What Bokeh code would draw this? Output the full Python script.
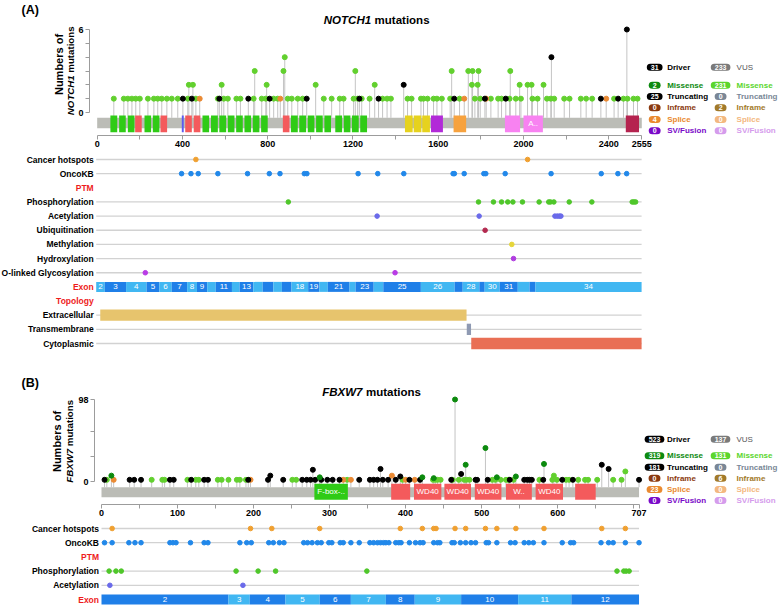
import math
from bokeh.plotting import figure
from bokeh.models import Range1d, FixedTicker, Label
from bokeh.layouts import column, row
from bokeh.embed import file_html
from bokeh.resources import INLINE
from bokeh.core.properties import value

FONT = "Liberation Sans"

# ======================= DATA : NOTCH1 (panel A) =======================
a_length = 2555
a_x_ticks = [0, 200, 400, 600, 800, 1000, 1200, 1400, 1600, 1800, 2000, 2200, 2400, 2555]
a_x_labels = [0, 400, 800, 1200, 1600, 2000, 2400, 2555]
a_y_ticks = [0, 1, 2, 3, 4, 5, 6]
a_y_labels = [0, 6]

a_vus_mis_pos = [78, 125, 144, 163, 181, 200, 238, 266, 284, 303,
                 327, 350, 378, 425, 463, 566, 594, 613, 653, 672,
                 734, 772, 791, 828, 847, 894, 913, 941, 964, 1063,
                 1100, 1138, 1156, 1203, 1222, 1241, 1278, 1339, 1360, 1378,
                 1456, 1475, 1519, 1531, 1550, 1578, 1594, 1617, 1656, 1700,
                 1772, 1797, 1847, 1881, 1897, 1935, 1964, 1988, 2042, 2066,
                 2110, 2128, 2144, 2191, 2216, 2269, 2294, 2322, 2425, 2469,
                 2488, 2516, 2535,
                 430, 449, 584, 795, 1025, 1302, 1758, 1785, 1982, 2019, 2038, 2094,
                 739, 874, 1211, 1663, 1741, 1761, 1789, 1938,
                 880]
a_vus_mis_cnt = [1, 1, 1, 1, 1, 1, 1, 1, 1, 1,
                 1, 1, 1, 1, 1, 1, 1, 1, 1, 1,
                 1, 1, 1, 1, 1, 1, 1, 1, 1, 1,
                 1, 1, 1, 1, 1, 1, 1, 1, 1, 1,
                 1, 1, 1, 1, 1, 1, 1, 1, 1, 1,
                 1, 1, 1, 1, 1, 1, 1, 1, 1, 1,
                 1, 1, 1, 1, 1, 1, 1, 1, 1, 1,
                 1, 1, 1,
                 2, 2, 2, 2, 2, 2, 2, 2, 2, 2, 2, 2,
                 3, 3, 3, 3, 3, 3, 3, 3,
                 4]
a_trunc_pos = [402, 444, 573, 709, 809, 983, 1230, 1320, 1438, 1675, 1819, 1917, 2131, 2363, 2444, 2485]
a_trunc_cnt = [1, 1, 1, 1, 1, 1, 1, 1, 2, 1, 1, 1, 4, 1, 1, 6]
a_splice_pos = [481, 859, 1722, 1825, 2388]
a_splice_cnt = [1, 1, 1, 1, 1]

a_dom_start = [62, 103, 144, 178, 222, 261, 297, 397, 413, 453,
               494, 534, 573, 613, 652, 691, 730, 769, 871, 909,
               948, 988, 1027, 1066, 1117, 1157, 1195, 1234, 1444, 1485,
               1525, 1566, 1672, 1913, 2000, 2480]
a_dom_end = [94, 134, 175, 209, 253, 292, 328, 406, 444, 484,
             525, 566, 605, 644, 683, 722, 761, 800, 902, 941,
             980, 1019, 1058, 1097, 1149, 1188, 1227, 1266, 1480, 1521,
             1561, 1622, 1731, 1984, 2091, 2542]
a_dom_type = ["EGF", "EGF", "EGF", "EGF_CA", "EGF", "EGF", "EGF_CA", "EGF_like", "EGF_CA", "EGF_CA",
              "EGF", "EGF", "EGF", "EGF", "EGF", "EGF", "EGF", "EGF", "EGF_CA", "EGF",
              "EGF", "EGF", "EGF", "EGF", "EGF", "EGF", "EGF", "EGF", "Notch", "Notch",
              "Notch", "NOD", "NODP", "Ank_2", "Ank_2", "DUF3454"]
a_dom_text = ["", "", "", "", "", "", "", "", "", "",
              "", "", "", "", "", "", "", "", "", "",
              "", "", "", "", "", "", "", "", "", "",
              "", "", "", "", "A..", ""]

a_rows = ["Cancer hotspots", "OncoKB", "PTM", "Phosphorylation", "Acetylation", "Ubiquitination",
          "Methylation", "Hydroxylation", "O-linked Glycosylation", "Exon", "Topology",
          "Extracellular", "Transmembrane", "Cytoplasmic"]
a_hotspots = [467, 2021]
a_oncokb = [400, 444, 478, 570, 709, 811, 861, 975, 987, 1227, 1319, 1441, 1672, 1678,
            1724, 1816, 1825, 1916, 2131, 2366, 2444, 2485]
a_phospho = [900, 1791, 1861, 1899, 1928, 1952, 1997, 2075, 2120, 2128, 2144, 2216, 2322, 2511, 2519, 2527]
a_acetyl = [1316, 1794, 2149, 2160, 2170, 2177]
a_ubiq = [1822]
a_methyl = [1947]
a_hydroxyl = [1955]
a_oglyc = [230, 1400]
a_exon_edges = [0, 40, 140, 236, 296, 354, 426, 472, 520, 560, 636, 672, 736, 780, 830, 870, 915,
                993, 1045, 1085, 1187, 1215, 1300, 1345, 1521, 1679, 1717, 1795, 1820, 1890, 1975,
                2030, 2058, 2555]
a_exon_text = ["2", "3", "4", "5", "6", "7", "8", "9", "", "11", "", "13", "", "", "", "",
               "18", "19", "", "21", "", "23", "", "25", "26", "", "28", "", "30", "31", "", "", "34"]
a_topo_name = ["Extracellular", "Transmembrane", "Cytoplasmic"]
a_topo_start = [19, 1736, 1757]
a_topo_end = [1735, 1756, 2555]
a_leg_total = [31, 233]
a_leg_driver = [2, 25, 0, 4, 0]
a_leg_vus = [231, 0, 2, 0, 0]

# ======================= DATA : FBXW7 (panel B) =======================
b_length = 707
b_x_ticks = [0, 50, 100, 150, 200, 250, 300, 350, 400, 450, 500, 550, 600, 650, 700, 707]
b_x_labels = [0, 100, 200, 300, 400, 500, 600, 707]
b_y_ticks = [0, 30, 60, 98]
b_y_labels = [0, 98]

b_vus_mis_pos = [7, 66, 80, 83, 113, 124, 128, 153, 158, 167,
                 178, 182, 190, 251, 256, 323, 396, 436, 439, 442,
                 446, 462, 470, 477, 480, 484, 514, 518, 525, 532,
                 535, 542, 576, 593, 599, 611, 615, 627, 636, 640,
                 652, 673, 684, 595, 689]
b_vus_mis_cnt = [2, 2, 2, 2, 2, 2, 2, 2, 2, 2,
                 2, 2, 2, 2, 2, 2, 2, 2, 2, 2,
                 2, 2, 2, 2, 2, 2, 2, 2, 2, 2,
                 2, 2, 2, 2, 2, 2, 2, 2, 2, 2,
                 2, 2, 2, 7, 12]
b_drv_mis_pos = [13, 287, 422, 437, 465, 479, 505, 520, 545, 582]
b_drv_mis_cnt = [7, 5, 5, 4, 98, 20, 40, 5, 6, 21]
b_trunc_pos = [4, 37, 43, 52, 90, 95, 118, 135, 140, 193,
               219, 222, 239, 264, 270, 275, 278, 281, 289, 297,
               304, 313, 339, 353, 358, 363, 367, 370, 377, 387,
               393, 405, 419, 460, 473, 492, 494, 508, 537, 556,
               560, 563, 566, 581, 606, 620, 658, 667, 707]
b_trunc_cnt = [2, 2, 2, 2, 2, 2, 2, 2, 2, 2,
               2, 7, 2, 2, 2, 2, 14, 2, 2, 2,
               2, 2, 2, 2, 2, 2, 15, 2, 2, 2,
               6, 2, 2, 2, 9, 2, 2, 2, 2, 2,
               2, 2, 2, 2, 2, 2, 20, 15, 2]
b_splice_pos = [16, 196, 318, 328, 382, 400, 412]
b_splice_cnt = [2, 2, 2, 2, 7, 2, 2]

b_dom_start = [280, 381, 411, 451, 491, 532, 571, 623]
b_dom_end = [324, 406, 447, 486, 526, 566, 607, 650]
b_dom_type = ["F-box", "WD40", "WD40", "WD40", "WD40", "WD40", "WD40", "WD40"]
b_dom_text = ["F-box-..", "", "WD40", "WD40", "WD40", "W..", "WD40", ""]

b_rows = ["Cancer hotspots", "OncoKB", "PTM", "Phosphorylation", "Acetylation", "Exon"]
b_hotspots = [14, 196, 224, 287, 393, 422, 437, 440, 465, 479, 505, 520, 545, 582, 658, 689]
b_oncokb = [4, 14, 36, 44, 52, 90, 94, 98, 117, 135, 140, 182, 191, 197, 220, 226, 234, 240,
            266, 271, 277, 284, 289, 299, 303, 314, 318, 328, 339, 353, 358, 363, 367, 371,
            374, 378, 387, 391, 394, 405, 413, 419, 423, 437, 442, 445, 461, 464, 472, 479,
            486, 492, 506, 509, 520, 538, 544, 556, 562, 568, 582, 606, 617, 621, 657, 667,
            673, 689, 707]
b_phospho = [10, 19, 26, 177, 206, 229, 349, 678, 687, 690, 694]
b_acetyl = [11, 186]
b_exon_edges = [0, 167, 195, 242, 287, 328, 374, 412, 473, 548, 618, 707]
b_exon_text = ["2", "3", "4", "5", "6", "7", "8", "9", "10", "11", "12"]
b_leg_total = [523, 137]
b_leg_driver = [319, 181, 0, 23, 0]
b_leg_vus = [131, 0, 6, 0, 0]

# ======================= STYLE =======================
PAGE_R = 780
SIDE_W = 75
STEM = "#c4c4c4"
BAR = "#bbbcb6"
AXIS = "#9c9c9c"
ROWLINE = "#d2d2d2"
HEAD = "#ee1c1c"
C_VUS_MIS = "#62d02e"
C_DRV_MIS = "#0c8a0e"
C_TRUNC = "#000000"
C_SPLICE = "#ea8a34"
DOM_COLORS = {"EGF": "#2fcb16", "EGF_CA": "#f45a5c", "EGF_like": "#5b5bf0", "Notch": "#e6d21e",
              "NOD": "#b22ad8", "NODP": "#f7a23e", "Ank_2": "#f882f1", "DUF3454": "#b5234f",
              "F-box": "#2fcb16", "WD40": "#f45a5c"}
TRACK_COLORS = {"Cancer hotspots": "#f0a030", "OncoKB": "#2188ea", "Phosphorylation": "#4fc72a",
                "Acetylation": "#6a6aea", "Ubiquitination": "#b3294f", "Methylation": "#e6d63a",
                "Hydroxylation": "#b03de0", "O-linked Glycosylation": "#b93be6"}
TOPO_COLORS = {"Extracellular": "#e7c46d", "Transmembrane": "#8f9ab3", "Cytoplasmic": "#e96f55"}
EXON_DARK, EXON_LIGHT = "#1f7fe8", "#41b7f2"
LEG_NAMES = ["Missense", "Truncating", "Inframe", "Splice", "SV/Fusion"]
DRV_COL = ["#0d8a10", "#000000", "#8b3a10", "#ea8a30", "#7a0ac8"]
VUS_COL = ["#5bd62c", "#7a8796", "#a27a2a", "#f3b880", "#d59cec"]


def base_fig(width, height, xr, yr, **kw):
    p = figure(width=width, height=height, output_backend="svg", toolbar_location=None,
               x_range=xr, y_range=yr, **kw)
    p.frame_align = False
    p.outline_line_color = None
    p.xgrid.visible = False
    p.ygrid.visible = False
    return p


def lab(p, x, y, text, size, color="black", style="bold", align="left", baseline="middle"):
    p.add_layout(Label(x=x, y=y, text=text, text_font=FONT, text_font_size=f"{size}px",
                       text_font_style=style, text_color=color, text_align=align,
                       text_baseline=baseline))


def pill(p, x, y, text, color):
    p.add_layout(Label(x=x, y=y, text=str(text), text_font=FONT, text_font_size="7px",
                       text_font_style="bold", text_color="white", text_align="center",
                       text_baseline="middle", background_fill_color=color,
                       border_radius=5, padding=dict(left=4, right=4, top=1, bottom=1)))


def make_side(top, bot, panel, gene, ytitle):
    # side strip with panel letter and the y-axis title (page pixel coordinates)
    p = base_fig(SIDE_W, bot - top, Range1d(0, SIDE_W), Range1d(bot, top),
                 x_axis_location=None, y_axis_location=None,
                 min_border_left=0, min_border_right=0, min_border_top=0, min_border_bottom=0)
    p.text(x=[21], y=[panel[1]], text=[panel[0]], text_align="left", text_baseline="top",
           text_font=value(FONT), text_font_style="bold", text_font_size="12.5px")
    xa, xb, yc, split = ytitle
    p.text(x=[xa], y=[yc], text=["Numbers of"], angle=math.pi / 2, text_align="center",
           text_baseline="middle", text_font=value(FONT), text_font_style="bold", text_font_size="11px")
    p.text(x=[xb], y=[split + 1.3], text=[gene], angle=math.pi / 2, text_align="right",
           text_baseline="middle", text_font=value(FONT), text_font_style="bold italic",
           text_font_size="9.7px")
    p.text(x=[xb], y=[split - 1.3], text=["mutations"], angle=math.pi / 2, text_align="left",
           text_baseline="middle", text_font=value(FONT), text_font_style="bold", text_font_size="9.7px")
    return p


def make_lollipop(geo, length, xt, xl, yt, yl, dom_s, dom_e, dom_t, dom_txt, series):
    x0, sc, y0, un = geo["x0"], geo["scale"], geo["y0"], geo["unit"]
    X = lambda px: (px - x0) / sc
    Y = lambda py: (y0 - py) / un
    top, fbot, fbig, left = geo["top"], geo["fbot"], geo["fig_bot"], geo["left"]
    p = base_fig(PAGE_R - SIDE_W, fbig - top, Range1d(X(left), X(PAGE_R)), Range1d(Y(fbot), Y(top)),
                 min_border_left=left - SIDE_W, min_border_right=0, min_border_top=0,
                 min_border_bottom=fbig - fbot)
    for ax, ticks, labels, bounds in ((p.xaxis[0], xt, xl, (0, length)), (p.yaxis[0], yt, yl, (0, yt[-1]))):
        ax.ticker = FixedTicker(ticks=ticks)
        ax.major_label_overrides = {t: "" for t in ticks if t not in labels}
        ax.bounds = bounds
        ax.minor_tick_line_color = None
        ax.axis_line_color = AXIS
        ax.major_tick_line_color = AXIS
        ax.major_tick_in = 0
        ax.major_tick_out = 4
        ax.major_label_text_font = FONT
        ax.major_label_text_font_style = "bold"
        ax.major_label_text_font_size = "9px"
        ax.major_label_text_color = "black"
    p.xaxis[0].major_label_standoff = 1
    p.yaxis[0].major_label_standoff = 2

    bt, bb = Y(geo["bar_top"]), Y(geo["bar_bot"])
    dt, db = Y(geo["dom_top"]), Y(geo["dom_bot"])
    for pos, cnt, col in series:
        p.segment(x0=pos, y0=[bt] * len(pos), x1=pos, y1=cnt, line_color=STEM, line_width=1)
    p.quad(left=[0], right=[length], top=[bt], bottom=[bb], fill_color=BAR, line_color=None)
    p.quad(left=dom_s, right=dom_e, top=dt, bottom=db,
           fill_color=[DOM_COLORS[t] for t in dom_t], line_color=None)
    lx = [(s + e) / 2 for s, e, t in zip(dom_s, dom_e, dom_txt) if t]
    lt = [t for t in dom_txt if t]
    p.text(x=lx, y=[(dt + db) / 2] * len(lx), text=lt, text_align="center", text_baseline="middle",
           text_font=value(FONT), text_font_size="8px", text_color="white")
    for pos, cnt, col in series:
        p.scatter(pos, cnt, size=5, fill_color=col, line_color=col)
    return p, X, Y


def add_titles(p, X, Y, gene, cx, cy):
    lab(p, X(cx - 2), Y(cy), gene, 11.5, style="bold italic", align="right")
    lab(p, X(cx + 1.5), Y(cy), "mutations", 11.5)


def add_legend(p, X, Y, rows_y, totals, drv, vus):
    c1p, c1t, c2p, c2t = 654, 666.5, 720, 736
    pill(p, X(c1p), Y(rows_y[0]), totals[0], "#000000")
    lab(p, X(c1t), Y(rows_y[0]), "Driver", 8)
    pill(p, X(c2p), Y(rows_y[0]), totals[1], "#7a7a7a")
    lab(p, X(c2t), Y(rows_y[0]), "VUS", 8, color="#555555", style="normal")
    for i, name in enumerate(LEG_NAMES):
        y = Y(rows_y[i + 1])
        pill(p, X(c1p), y, drv[i], DRV_COL[i])
        lab(p, X(c1t), y, name, 8, color=DRV_COL[i])
        pill(p, X(c2p), y, vus[i], VUS_COL[i])
        lab(p, X(c2t), y, name, 8, color=VUS_COL[i])


def make_tracks(geo, length, rows, headers, dots, exon_edges, exon_text, first_dark, topo=None):
    x0, sc, r0, st = geo["x0"], geo["scale"], geo["row0"], geo["step"]
    top, bot = geo["top"], geo["bot"]
    p = base_fig(PAGE_R, bot - top, Range1d((0 - x0) / sc, (PAGE_R - x0) / sc),
                 Range1d((bot - r0) / st, (top - r0) / st),
                 x_axis_location=None, y_axis_location=None,
                 min_border_left=0, min_border_right=0, min_border_top=0, min_border_bottom=0)
    idx = {n: i for i, n in enumerate(rows)}
    line_rows = [idx[n] for n in rows if n not in headers and n != "Exon"]
    p.segment(x0=[0] * len(line_rows), y0=line_rows, x1=[length] * len(line_rows), y1=line_rows,
              line_color=ROWLINE, line_width=1.3)
    p.text(x=[0] * len(rows), y=list(range(len(rows))), text=rows, x_offset=-2.5,
           text_align="right", text_baseline="middle", text_font=value(FONT),
           text_font_style="bold", text_font_size="8.5px",
           text_color=[HEAD if n in headers else "black" for n in rows])
    for name, pos in dots.items():
        p.scatter(pos, [idx[name]] * len(pos), size=4.6, color=TRACK_COLORS[name])
    er = idx["Exon"]
    n = len(exon_text)
    cols = [(EXON_DARK if (i % 2 == 0) == first_dark else EXON_LIGHT) for i in range(n)]
    p.hbar(y=[er] * n, left=exon_edges[:-1], right=exon_edges[1:], height=10.0 / st,
           fill_color=cols, line_color=None)
    ex = [(exon_edges[i] + exon_edges[i + 1]) / 2 for i in range(n) if exon_text[i]]
    et = [t for t in exon_text if t]
    p.text(x=ex, y=[er] * len(ex), text=et, text_align="center", text_baseline="middle",
           text_font=value(FONT), text_font_size="8px", text_color="white")
    if topo:
        names, s, e = topo
        p.hbar(y=[idx[nm] for nm in names], left=s, right=e, height=11.3 / st,
               fill_color=[TOPO_COLORS[nm] for nm in names], line_color=None)
    return p


# ======================= PANEL A =======================
geo_a1 = dict(top=0, fbot=135, fig_bot=155, left=88, x0=95.7, scale=0.21346, y0=112.0, unit=13.833,
              bar_top=117.3, bar_bot=127.7, dom_top=115.0, dom_bot=131.7)
a1, AX, AY = make_lollipop(geo_a1, a_length, a_x_ticks, a_x_labels, a_y_ticks, a_y_labels,
                           a_dom_start, a_dom_end, a_dom_type, a_dom_text,
                           [(a_vus_mis_pos, a_vus_mis_cnt, C_VUS_MIS),
                            (a_splice_pos, a_splice_cnt, C_SPLICE),
                            (a_trunc_pos, a_trunc_cnt, C_TRUNC)])
add_titles(a1, AX, AY, "NOTCH1", 372, 19)
add_legend(a1, AX, AY, [66.7, 84.7, 96.0, 107.3, 119.0, 130.3], a_leg_total, a_leg_driver, a_leg_vus)
a1_side = make_side(0, 155, ("(A)", 2), "NOTCH1", (58.3, 69.5, 64, 73.5))

geo_a2 = dict(top=155, bot=355, x0=95.7, scale=0.21346, row0=159.0, step=14.154)
a2 = make_tracks(geo_a2, a_length, a_rows, ["PTM", "Exon", "Topology"],
                 {"Cancer hotspots": a_hotspots, "OncoKB": a_oncokb, "Phosphorylation": a_phospho,
                  "Acetylation": a_acetyl, "Ubiquitination": a_ubiq, "Methylation": a_methyl,
                  "Hydroxylation": a_hydroxyl, "O-linked Glycosylation": a_oglyc},
                 a_exon_edges, a_exon_text, False, (a_topo_name, a_topo_start, a_topo_end))

# ======================= PANEL B =======================
geo_b1 = dict(top=355, fbot=504, fig_bot=522, left=94, x0=101.0, scale=0.7603, y0=481.0, unit=0.8367,
              bar_top=486.7, bar_bot=496.7, dom_top=483.3, dom_bot=499.3)
b1, BX, BY = make_lollipop(geo_b1, b_length, b_x_ticks, b_x_labels, b_y_ticks, b_y_labels,
                           b_dom_start, b_dom_end, b_dom_type, b_dom_text,
                           [(b_vus_mis_pos, b_vus_mis_cnt, C_VUS_MIS),
                            (b_splice_pos, b_splice_cnt, C_SPLICE),
                            (b_trunc_pos, b_trunc_cnt, C_TRUNC),
                            (b_drv_mis_pos, b_drv_mis_cnt, C_DRV_MIS)])
add_titles(b1, BX, BY, "FBXW7", 364, 391)
add_legend(b1, BX, BY, [438.7, 455.3, 466.7, 477.7, 489.0, 500.0], b_leg_total, b_leg_driver, b_leg_vus)
b1_side = make_side(355, 522, ("(B)", 375), "FBXW7", (56.7, 69.0, 441, 447))

geo_b2 = dict(top=522, bot=605, x0=101.0, scale=0.7603, row0=528.0, step=14.2)
b2 = make_tracks(geo_b2, b_length, b_rows, ["PTM", "Exon"],
                 {"Cancer hotspots": b_hotspots, "OncoKB": b_oncokb, "Phosphorylation": b_phospho,
                  "Acetylation": b_acetyl},
                 b_exon_edges, b_exon_text, True)

layout = column(row(a1_side, a1), a2, row(b1_side, b1), b2)
open("out.html", "w").write(file_html(layout, INLINE))
